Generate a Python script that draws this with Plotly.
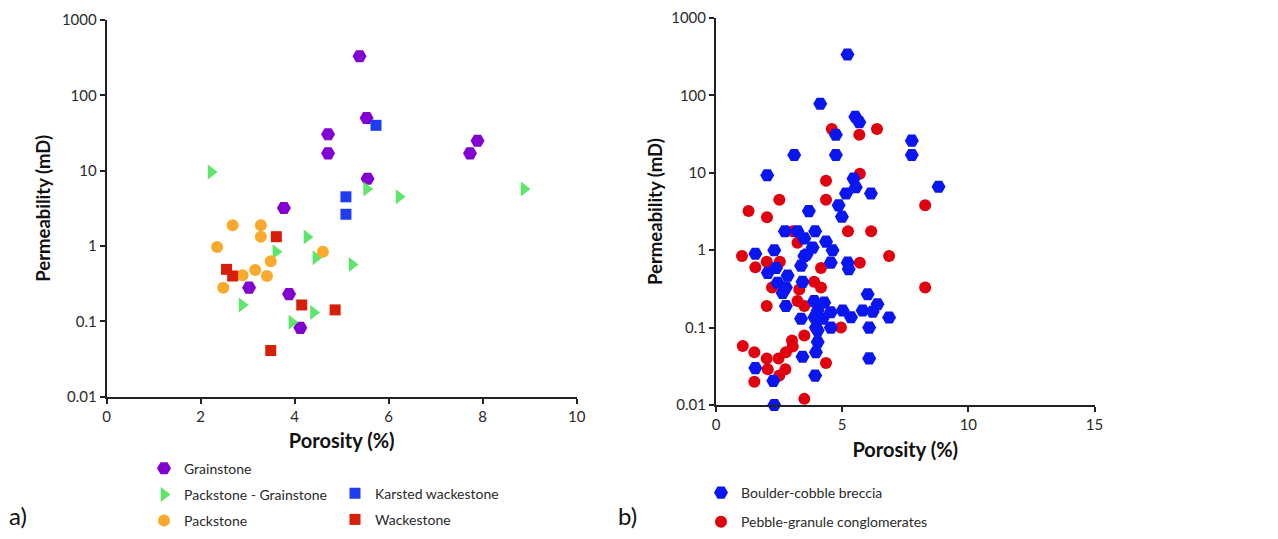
import plotly.graph_objects as go

# ---------------- Data: panel a) ----------------
grain_por = [5.38, 5.53, 4.71, 4.71, 7.89, 7.73, 5.55, 3.77, 3.03, 3.88, 4.12]
grain_perm = [330, 50, 30.5, 17, 25, 17, 7.8, 3.2, 0.28, 0.23, 0.082]

packgrain_por = [2.22, 5.53, 6.22, 8.88, 4.26, 3.60, 4.45, 5.22, 2.88, 4.40, 3.94]
packgrain_perm = [9.6, 5.7, 4.5, 5.7, 1.32, 0.84, 0.70, 0.57, 0.165, 0.131, 0.097]

karst_por = [5.73, 5.09, 5.09]
karst_perm = [40, 4.5, 2.64]

pack_por = [2.68, 3.28, 3.28, 2.35, 4.60, 3.49, 3.16, 2.89, 3.41, 2.48]
pack_perm = [1.89, 1.89, 1.33, 0.97, 0.84, 0.63, 0.48, 0.41, 0.40, 0.28]

wack_por = [3.61, 2.55, 2.68, 4.15, 4.86, 3.49]
wack_perm = [1.33, 0.49, 0.40, 0.165, 0.142, 0.041]

# ---------------- Data: panel b) ----------------
breccia_por = [5.21, 4.13, 5.52, 5.68, 4.75, 7.76, 7.76, 3.10, 4.75, 2.03,
               8.82, 5.45, 5.54, 5.15, 6.14, 4.86, 4.99, 3.68, 2.73, 3.23,
               3.93, 3.50, 4.36, 1.56, 2.31, 3.83, 4.62, 3.50, 3.37, 4.55,
               5.22, 5.26, 2.05, 2.38, 2.84, 2.44, 2.77, 3.43, 2.64, 2.77,
               3.89, 4.29, 6.01, 6.40, 4.03, 4.55, 5.02, 5.81, 6.21, 3.37,
               4.22, 5.35, 6.86, 3.96, 4.55, 6.07, 4.03, 4.03, 3.96, 3.43,
               6.07, 1.56, 3.93, 2.27, 2.31, 3.90, 3.59]
breccia_perm = [337, 78, 53, 45, 31, 26, 17, 17, 17, 9.3,
                6.6, 8.4, 6.5, 5.4, 5.4, 3.8, 2.7, 3.2, 1.76, 1.76,
                1.76, 1.42, 1.29, 0.90, 1.0, 1.08, 1.0, 0.84, 0.63, 0.69,
                0.69, 0.57, 0.51, 0.59, 0.47, 0.38, 0.33, 0.39, 0.28, 0.19,
                0.22, 0.21, 0.27, 0.20, 0.166, 0.158, 0.166, 0.166, 0.16, 0.13,
                0.13, 0.136, 0.135, 0.10, 0.10, 0.10, 0.092, 0.065, 0.048, 0.042,
                0.040, 0.030, 0.024, 0.0205, 0.010, 0.136, 0.88]

conglo_por = [4.59, 5.68, 6.38, 5.70, 4.36, 2.51, 4.36, 1.29, 2.02, 8.29,
              5.23, 6.15, 3.23, 1.03, 1.56, 2.01, 2.53, 4.16, 5.70, 6.86,
              8.29, 2.22, 3.89, 4.16, 3.30, 2.01, 3.23, 3.50, 4.95, 1.06,
              1.52, 2.01, 2.48, 3.01, 3.04, 2.77, 3.50, 4.36, 2.05, 2.75,
              2.51, 1.52, 3.50, 3.04]
conglo_perm = [36.7, 31, 36.7, 9.7, 7.9, 4.5, 4.5, 3.2, 2.67, 3.8,
               1.76, 1.76, 1.25, 0.84, 0.60, 0.71, 0.71, 0.59, 0.69, 0.84,
               0.33, 0.33, 0.39, 0.33, 0.31, 0.19, 0.22, 0.19, 0.10, 0.058,
               0.048, 0.040, 0.040, 0.068, 0.057, 0.048, 0.079, 0.035, 0.029, 0.029,
               0.024, 0.020, 0.012, 1.76]

# ---------------- Axis ticks ----------------
perm_ticks = [0.01, 0.1, 1, 10, 100, 1000]
perm_labels = ["0.01", "0.1", "1", "10", "100", "1000"]
por_ticks_a = [0, 2, 4, 6, 8, 10]
por_ticks_b = [0, 5, 10, 15]

FONT = "Lato"
TXT = "#2a2a2a"

PURPLE = "#8300D3"
GREEN = "#5EE66A"
BLUE_SQ = "#1E3DF0"
ORANGE = "#F9AA2C"
RED_SQ = "#D71F08"
BLUE_HEX = "#0A16F2"
RED_DOT = "#E0000E"

# the page body has an 8px margin, so the figure is sized to fit the window
OFF = 8
W, H = 1278 - 2 * OFF, 539 - 2 * OFF


def xp(px):
    return (px - OFF) / W


def yp(py):
    return 1 - (py - OFF) / H


fig = go.Figure()


def add(xs, ys, name, symbol, size, color, xa, ya, legend, group, rank):
    fig.add_trace(go.Scatter(
        x=xs, y=ys, mode="markers", name=name,
        marker=dict(symbol=symbol, size=size, color=color, line=dict(width=0)),
        xaxis=xa, yaxis=ya, legend=legend, legendgroup=group, legendrank=rank,
        cliponaxis=False, hoverinfo="x+y+name"))


add(grain_por, grain_perm, "Grainstone", "hexagon2", 14, PURPLE, "x", "y", "legend", "g1", 1)
add(packgrain_por, packgrain_perm, "Packstone - Grainstone", "triangle-right", 13, GREEN, "x", "y", "legend", "g2", 2)
add(karst_por, karst_perm, "Karsted wackestone", "square", 11, BLUE_SQ, "x", "y", "legend2", "g4", 4)
add(pack_por, pack_perm, "Packstone", "circle", 12, ORANGE, "x", "y", "legend", "g3", 3)
add(wack_por, wack_perm, "Wackestone", "square", 11, RED_SQ, "x", "y", "legend2", "g5", 5)

add(conglo_por, conglo_perm, "Pebble-granule conglomerates", "circle", 12, RED_DOT, "x2", "y2", "legend3", "h2", 2)
add(breccia_por, breccia_perm, "Boulder-cobble breccia", "hexagon2", 14, BLUE_HEX, "x2", "y2", "legend3", "h1", 1)

axis_common = dict(showline=True, linecolor="#222", linewidth=2, ticks="outside",
                   ticklen=5, tickwidth=1.5, tickcolor="#222", showgrid=False,
                   zeroline=False, automargin=False, ticklabeloverflow="allow",
                   tickfont=dict(family=FONT, size=15, color=TXT))
xtitle_font = dict(family=FONT, size=20, color="#111")
ytitle_font = dict(family=FONT, size=18.5, color="#111")
legend_common = dict(xanchor="left", yanchor="top", traceorder="grouped",
                     bgcolor="rgba(0,0,0,0)", borderwidth=0,
                     font=dict(family=FONT, size=14, color=TXT))

fig.update_layout(
    width=W, height=H,
    margin=dict(l=0, r=0, t=0, b=0, pad=0, autoexpand=False),
    paper_bgcolor="white", plot_bgcolor="white",
    font=dict(family=FONT, size=15, color=TXT),
    xaxis=dict(domain=[xp(106.7), xp(576.7)], range=[0, 10], anchor="y",
               tickvals=por_ticks_a, ticktext=[str(v) for v in por_ticks_a],
               title=dict(text="<b>Porosity (%)</b>", font=xtitle_font, standoff=10),
               **axis_common),
    yaxis=dict(domain=[yp(396.7), yp(20)], type="log", range=[-2, 3], anchor="x",
               tickvals=perm_ticks, ticktext=perm_labels,
               title=dict(text="<b>Permeability (mD)</b>", font=ytitle_font, standoff=6),
               **axis_common),
    xaxis2=dict(domain=[xp(716), xp(1094.5)], range=[0, 15], anchor="y2",
                tickvals=por_ticks_b, ticktext=[str(v) for v in por_ticks_b],
                title=dict(text="<b>Porosity (%)</b>", font=xtitle_font, standoff=11),
                **axis_common),
    yaxis2=dict(domain=[yp(405), yp(18)], type="log", range=[-2, 3], anchor="x2",
                tickvals=perm_ticks, ticktext=perm_labels,
                title=dict(text="<b>Permeability (mD)</b>", font=ytitle_font, standoff=4),
                **axis_common),
    legend=dict(x=xp(144), y=yp(468.3 - 15.7), tracegroupgap=5, **legend_common),
    legend2=dict(x=xp(335), y=yp(493.3 - 15.7), tracegroupgap=5, **legend_common),
    legend3=dict(x=xp(701), y=yp(492.7 - 15.7), tracegroupgap=8, **legend_common),
    annotations=[
        dict(text="a)", x=xp(8), y=0, xref="paper", yref="paper",
             xanchor="left", yanchor="bottom", showarrow=False, borderpad=0,
             font=dict(family=FONT, size=24, color="#111")),
        dict(text="b)", x=xp(617), y=0, xref="paper", yref="paper",
             xanchor="left", yanchor="bottom", showarrow=False, borderpad=0,
             font=dict(family=FONT, size=24, color="#111")),
    ],
)

fig.write_html("out.html")
